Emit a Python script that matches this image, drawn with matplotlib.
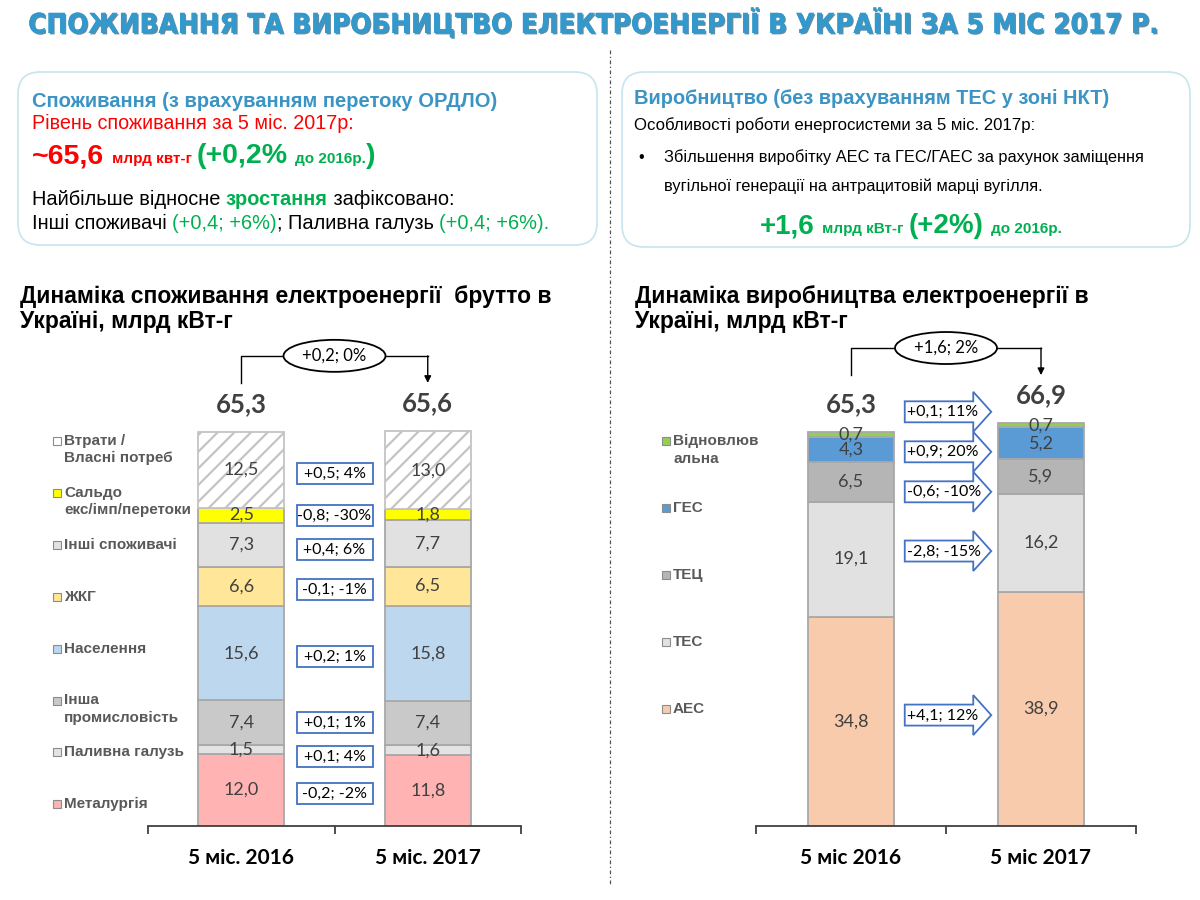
import numpy as np
import matplotlib
matplotlib.use('Agg')
import matplotlib.pyplot as plt
import matplotlib.patches as mpatches
import matplotlib.patheffects as pe
from matplotlib import font_manager

# --- дані: споживання ---
cons_years = ['5 міс. 2016', '5 міс. 2017']
cons_names = ['Металургія', 'Паливна галузь', 'Інша\nпромисловість', 'Населення', 'ЖКГ',
              'Інші споживачі', 'Сальдо\nекс/імп/перетоки', 'Втрати /\nВласні потреб']
cons_2016 = [12.0, 1.5, 7.4, 15.6, 6.6, 7.3, 2.5, 12.5]
cons_2017 = [11.8, 1.6, 7.4, 15.8, 6.5, 7.7, 1.8, 13.0]
cons_change = ['-0,2; -2%', '+0,1; 4%', '+0,1; 1%', '+0,2; 1%', '-0,1; -1%',
               '+0,4; 6%', '-0,8; -30%', '+0,5; 4%']
cons_totals = ['65,3', '65,6']
cons_total_change = '+0,2; 0%'

# --- дані: виробництво ---
prod_years = ['5 міс 2016', '5 міс 2017']
prod_names = ['АЕС', 'ТЕС', 'ТЕЦ', 'ГЕС', 'Відновлюв\nальна']
prod_2016 = [34.8, 19.1, 6.5, 4.3, 0.7]
prod_2017 = [38.9, 16.2, 5.9, 5.2, 0.7]
prod_change = ['+4,1; 12%', '-2,8; -15%', '-0,6; -10%', '+0,9; 20%', '+0,1; 11%']
prod_totals = ['65,3', '66,9']
prod_total_change = '+1,6; 2%'

cons_colors = ['#FFB3B3', '#E3E3E3', '#C9C9C9', '#BDD7EE', '#FFE699', '#E1E1E1', '#FFFF00', 'white']
prod_colors = ['#F8CBAD', '#E1E1E1', '#B5B5B5', '#5B9BD5', '#92D050']

GREEN = '#00B050'
BLUE_T = '#3B94C3'
ARIAL = 'Liberation Sans'
CALIBRI = ['Lato', 'DejaVu Sans']
fonts = font_manager.fontManager.ttflist
names = {f.name for f in fonts}
if 'Liberation Sans Narrow' in names:
    TITLE_FONT = dict(family='Liberation Sans Narrow')
elif any(f.name == 'DejaVu Sans' and 'ondensed' in str(f.stretch) for f in fonts):
    TITLE_FONT = dict(family='DejaVu Sans', fontstretch='condensed')
else:
    TITLE_FONT = dict(family=ARIAL)

plt.rcParams['hatch.linewidth'] = 1.6

fig = plt.figure(figsize=(12, 9), dpi=100)
base = fig.add_axes([0, 0, 1, 1])
base.set_xlim(0, 1200)
base.set_ylim(900, 0)
base.axis('off')
rend = fig.canvas.get_renderer()


def width(t):
    return t.get_window_extent(renderer=rend).width


def rich(x, y, parts):
    # кілька шматків тексту різного стилю в одному рядку
    for s, kw in parts:
        core = s.rstrip(' ')
        t = base.text(x, y, core, va='baseline', ha='left', **kw)
        x += width(t)
        n = len(s) - len(core)
        if n:
            a = base.text(0, -100, 'x x', **kw)
            b = base.text(0, -100, 'xx', **kw)
            x += n * (width(a) - width(b))
            a.remove(); b.remove()
    return x


def fmt(v):
    return f'{v:.1f}'.replace('.', ',')


def to_px(ax, x, y):
    dx, dy = ax.transData.transform((x, y))
    return dx, 900 - dy


def spread(ys, gap):
    ys = list(ys)
    for _ in range(60):
        for k in range(len(ys) - 1):
            d = ys[k + 1] - ys[k]
            if d < gap:
                m = (gap - d) / 2
                ys[k] -= m
                ys[k + 1] += m
    return ys


# заголовок
title = base.text(28, 23, 'СПОЖИВАННЯ ТА ВИРОБНИЦТВО ЕЛЕКТРОЕНЕРГІЇ В УКРАЇНІ ЗА 5 МІС 2017 Р.',
                  fontsize=28, fontweight='bold', color='#3399CC', va='center', ha='left', **TITLE_FONT,
                  path_effects=[pe.withSimplePatchShadow(offset=(1, -1), shadow_rgbFace='#1E5B7A', alpha=0.7),
                                pe.Normal()])
title.set_fontsize(28 * 1132 / width(title))

# розділювач
base.plot([610, 610], [50, 885], color='#555555', lw=0.9, ls=(0, (3, 2, 1, 2)))

# інфо-блоки
for x0, y0, x1, y1 in [(18, 72, 597, 245), (622, 72, 1190, 247)]:
    base.add_patch(mpatches.FancyBboxPatch((x0, y0), x1 - x0, y1 - y0,
                                           boxstyle='round,pad=0,rounding_size=22',
                                           fc='white', ec='#C7E4EF', lw=1.2))

big = dict(family=ARIAL, fontsize=20.5, fontweight='bold')
small = dict(family=ARIAL, fontsize=11, fontweight='bold')
reg = dict(family=ARIAL, fontsize=14.4)
rich(32, 107, [('Споживання (з врахуванням перетоку ОРДЛО)',
                dict(family=ARIAL, fontsize=14.5, fontweight='bold', color=BLUE_T))])
rich(32, 129, [('Рівень споживання за 5 міс. 2017р:', dict(reg, fontsize=14.2, color='#FF0000'))])
rich(32, 163, [('~65,6 ', dict(big, color='#FF0000')), ('млрд квт-г ', dict(small, color='#FF0000')),
               ('(+0,2% ', dict(big, color=GREEN)), ('до 2016р.', dict(small, color=GREEN)),
               (')', dict(big, color=GREEN))])
rich(32, 205, [('Найбільше відносне ', dict(reg, color='black')),
               ('зростання', dict(reg, color=GREEN, fontweight='bold')),
               (' зафіксовано:', dict(reg, color='black'))])
rich(32, 229, [('Інші споживачі ', dict(reg, color='black')), ('(+0,4; +6%)', dict(reg, color=GREEN)),
               ('; Паливна галузь ', dict(reg, color='black')), ('(+0,4; +6%).', dict(reg, color=GREEN))])

rich(634, 104, [('Виробництво (без врахуванням ТЕС у зоні НКТ)',
                 dict(family=ARIAL, fontsize=14.4, fontweight='bold', color=BLUE_T))])
rich(634, 130, [('Особливості роботи енергосистеми за 5 міс. 2017р:',
                 dict(family=ARIAL, fontsize=12.1, color='black'))])
base.text(638, 162, '•', family=ARIAL, fontsize=11.5, va='baseline')
rich(664, 162, [('Збільшення виробітку АЕС та ГЕС/ГАЕС за рахунок заміщення',
                 dict(family=ARIAL, fontsize=11.8, color='black'))])
rich(664, 191, [('вугільної генерації на антрацитовій марці вугілля.',
                 dict(family=ARIAL, fontsize=11.8, color='black'))])
big2 = dict(family=ARIAL, fontsize=20, fontweight='bold', color=GREEN)
small2 = dict(family=ARIAL, fontsize=11, fontweight='bold', color=GREEN)
rich(760, 233, [('+1,6 ', big2), ('млрд кВт-г ', small2), ('(+2%) ', big2), ('до 2016р.', small2)])

# заголовки графіків
ttl = dict(family=ARIAL, fontsize=16.5, fontweight='bold', color='black', va='baseline')
base.text(20, 303, 'Динаміка споживання електроенергії  брутто в', **ttl)
base.text(20, 328, 'Україні, млрд кВт-г', **ttl)
base.text(635, 303, 'Динаміка виробництва електроенергії в', **ttl)
base.text(635, 328, 'Україні, млрд кВт-г', **ttl)

# осі з барами
PX = 6.02
YMAX = 70
hfrac = YMAX * PX / 900
ax1 = fig.add_axes([148 / 1200, 74 / 900, 373 / 1200, hfrac])
ax2 = fig.add_axes([756 / 1200, 74 / 900, 380 / 1200, hfrac])


def stacked(ax, v16, v17, colors, bw, years, hatch_last=False):
    bottoms = np.zeros(2)
    mids = []
    n = len(v16)
    for i in range(n):
        vals = np.array([v16[i], v17[i]])
        hatch = '//' if (hatch_last and i == n - 1) else None
        ec = '#C4C4C4' if hatch else '#A8A8A8'
        c = ax.bar([0, 1], vals, bw, bottom=bottoms, color=colors[i], edgecolor=ec, lw=1.3, hatch=hatch)
        ax.bar_label(c, labels=[fmt(v) for v in vals], label_type='center',
                     fontsize=13, color='#404040', family=CALIBRI)
        mids.append(np.mean(bottoms + vals / 2))
        bottoms += vals
    ax.set_xlim(-0.5, 1.5)
    ax.set_ylim(0, YMAX)
    for s in ['top', 'right', 'left']:
        ax.spines[s].set_visible(False)
    ax.spines['bottom'].set_color('#404040')
    ax.spines['bottom'].set_linewidth(1.3)
    ax.set_yticks([])
    ax.set_xticks([0, 1])
    ax.set_xticklabels(years, fontsize=15, fontweight='bold', family=CALIBRI)
    ax.tick_params(axis='x', which='major', length=0, pad=16)
    ax.set_xticks([-0.5, 0.5, 1.5], minor=True)
    ax.tick_params(axis='x', which='minor', length=6, width=1.3, color='#404040', direction='out')
    ax.patch.set_alpha(0)
    return bottoms, mids


sum1, mids1 = stacked(ax1, cons_2016, cons_2017, cons_colors, 0.46, cons_years, hatch_last=True)
sum2, mids2 = stacked(ax2, prod_2016, prod_2017, prod_colors, 0.45, prod_years)

for ax, sums, labels, ch in [(ax1, sum1, cons_totals, cons_total_change),
                             (ax2, sum2, prod_totals, prod_total_change)]:
    for i in range(2):
        ax.annotate(labels[i], xy=(i, sums[i]), xytext=(0, 20), textcoords='offset points',
                    ha='center', va='center', fontsize=18.5, fontweight='bold', color='#404040',
                    family=CALIBRI)
    # дужка зі стрілкою
    xa, yb = to_px(ax, 0, max(sums) + 12.5)
    xb, yl = to_px(ax, 1, max(sums) + 8)
    xm = (xa + xb) / 2
    base.plot([xa, xa, xm - 51], [yl, yb, yb], color='black', lw=1)
    base.plot([xm + 51, xb], [yb, yb], color='black', lw=1)
    base.annotate('', xy=(xb, yl), xytext=(xb, yb),
                  arrowprops=dict(arrowstyle='-|>', color='black', lw=1, mutation_scale=10,
                                  shrinkA=0, shrinkB=0))
    base.add_patch(mpatches.Ellipse((xm, yb), 102, 32, fc='white', ec='black', lw=1.3, zorder=3))
    base.text(xm, yb, ch, ha='center', va='center', fontsize=12, family=CALIBRI, zorder=4)

# прямокутники зі змінами (споживання)
for y, lab in zip(spread(mids1, 34 / PX), cons_change):
    cx, cy = to_px(ax1, 0.5, y)
    cy += 3
    base.add_patch(mpatches.Rectangle((cx - 38, cy - 10.5), 76, 21, fc='white', ec='#4472C4', lw=1.3))
    base.text(cx, cy + 0.5, lab, ha='center', va='center', fontsize=11.5, family=CALIBRI)

# стрілки зі змінами (виробництво)
for y, lab in zip(spread(mids2, 40 / PX), prod_change):
    x0, cy = to_px(ax2, 0.225, y)
    x1, _ = to_px(ax2, 1 - 0.225, y)
    x0 += 11
    x1 -= 7
    xn = x1 - 18
    pts = [(x0, cy - 10.5), (xn, cy - 10.5), (xn, cy - 20), (x1, cy), (xn, cy + 20),
           (xn, cy + 10.5), (x0, cy + 10.5)]
    base.add_patch(mpatches.Polygon(pts, closed=True, fc='white', ec='#4472C4', lw=1.3))
    base.text(x0 + 2, cy + 0.5, lab, ha='left', va='center', fontsize=11.5, family=CALIBRI)

# легенди
leg = dict(family=ARIAL, fontsize=11, fontweight='bold', color='#595959', va='center', ha='left')
for k, (nm, col) in enumerate(zip(cons_names[::-1], cons_colors[::-1])):
    y = 441 + k * 51.9
    base.add_patch(mpatches.Rectangle((53, y - 4), 8, 8, fc=col, ec='#8C8C8C', lw=0.8))
    for j, line in enumerate(nm.split('\n')):
        base.text(64, y + j * 17, line, **leg)
for k, (nm, col) in enumerate(zip(prod_names[::-1], prod_colors[::-1])):
    y = 441 + k * 67
    base.add_patch(mpatches.Rectangle((662, y - 4), 8, 8, fc=col, ec='#8C8C8C', lw=0.8))
    for j, line in enumerate(nm.split('\n')):
        base.text(673, y + j * 18, line, **leg)

fig.savefig('out.png', dpi=100)
